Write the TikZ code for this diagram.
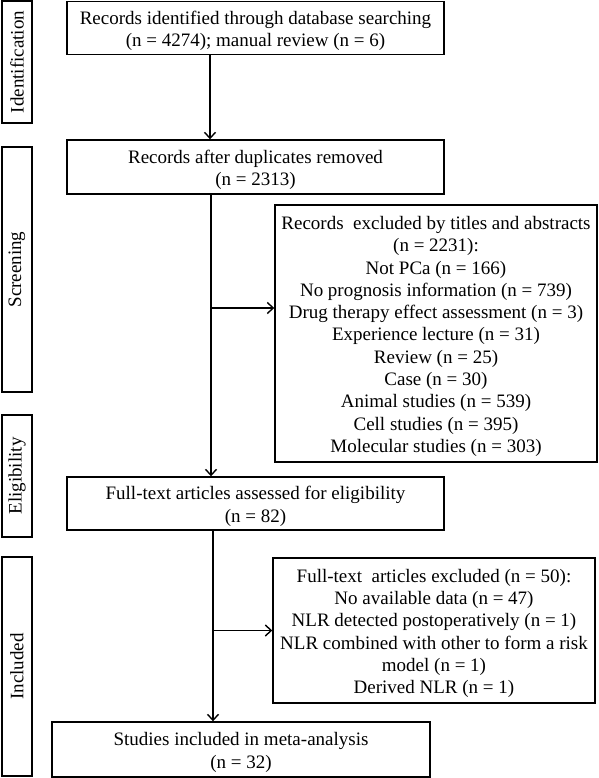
\documentclass[tikz,border=0pt]{standalone}
\usepackage{fontspec}
\setmainfont{Liberation Serif}
\usetikzlibrary{arrows.meta}
\newcommand\tstrut{\rule{0pt}{19pt}}
\begin{document}
\begin{tikzpicture}[x=1pt,y=-1pt,
  font=\fontsize{19}{22.3}\selectfont,
  mainbox/.style={draw, line width=1.4pt, align=center, inner sep=0pt},
  stagebox/.style={draw, line width=2pt, rotate=90, inner sep=0pt, minimum height=30pt},
  arr/.style={line width=1.4pt, -{Straight Barb[length=6pt,width=11pt]}}]
\useasboundingbox (0,0) rectangle (598,778);

% stage labels
\node[stagebox, minimum width=122pt] (sid) at (17,62) {Identification};
\node[stagebox, minimum width=245pt] (ssc) at (17,269.5) {Screening};
\node[stagebox, minimum width=122pt] (sel) at (17,476) {Eligibility};
\node[stagebox, minimum width=219pt] (sin) at (17,666.5) {Included};

% main boxes
\node[mainbox, minimum width=377pt, minimum height=53pt] (b1) at (255.5,28)
  {\tstrut Records identified through database searching\\(n = 4274); manual review (n = 6)};
\node[mainbox, minimum width=377pt, minimum height=54pt] (b2) at (255.5,167)
  {\tstrut Records after duplicates removed\\(n = 2313)};
\node[mainbox, minimum width=322pt, minimum height=257pt] (e1) at (436,333.5)
  {\tstrut Records\ \ excluded by titles and abstracts\\(n = 2231):\\Not PCa (n = 166)\\No prognosis information (n = 739)\\Drug therapy effect assessment (n = 3)\\Experience lecture (n = 31)\\Review (n = 25)\\Case (n = 30)\\Animal studies (n = 539)\\Cell studies (n = 395)\\Molecular studies (n = 303)};
\node[mainbox, minimum width=377pt, minimum height=53pt] (b3) at (255.5,503.5)
  {\tstrut Full-text articles assessed for eligibility\\(n = 82)};
\node[mainbox, minimum width=322pt, minimum height=145pt] (e2) at (434,630.5)
  {\tstrut Full-text\ \ articles excluded (n = 50):\\No available data (n = 47)\\NLR detected postoperatively (n = 1)\\NLR combined with other to form a risk\\model (n = 1)\\Derived NLR (n = 1)};
\node[mainbox, minimum width=378pt, minimum height=55pt] (b4) at (241,749.5)
  {\tstrut Studies included in meta-analysis\\(n = 32)};

% connector helper points
\coordinate (j1) at ([xshift=-44.5pt]b2.south);
\coordinate (t1) at ([yshift=25.5pt]e1.west);
\coordinate (j2) at ([xshift=-42.5pt]b3.south);

% connectors
\draw[arr] ([xshift=-45.5pt]b1.south) -- ([xshift=-45.5pt]b2.north);
\draw[arr] (j1) -- ([xshift=-44.5pt]b3.north);
\draw[arr] (j2) -- ([xshift=-28pt]b4.north);
\draw[arr] (j1 |- t1) -- (t1);
\draw[arr] (j2 |- e2.west) -- (e2.west);
\end{tikzpicture}
\end{document}
